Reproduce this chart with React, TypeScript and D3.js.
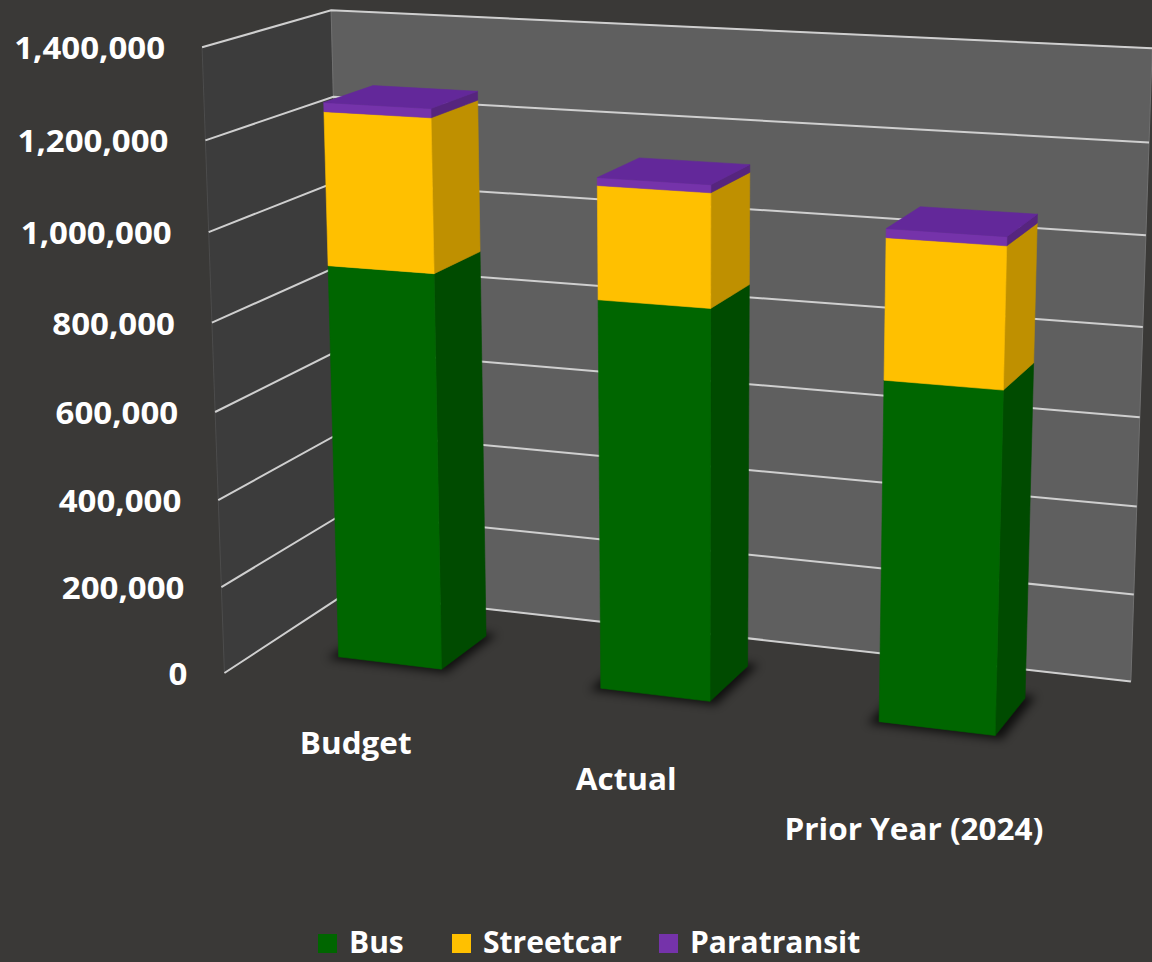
import React from 'react';
import * as d3 from 'd3';

const categories = ['Budget', 'Actual', 'Prior Year (2024)'];
const seriesNames = ['Bus', 'Streetcar', 'Paratransit'];
const busValues = [902000, 872000, 748000];
const streetcarValues = [341000, 247000, 301000];
const paratransitValues = [20000, 17000, 19000];
const yTicks = [0, 200000, 400000, 600000, 800000, 1000000, 1200000, 1400000];

const W = 1152;
const H = 962;
const FONT = "'Open Sans', 'DejaVu Sans', sans-serif";
const FONT_SIZE = 30;

const Z0 = 0.3, Z1 = 0.7;

// frame anchors for the 3-D camera: world (X, Yfrac, Z) -> image (u, v), weight
const anchors: number[][] = [
  [0, 0, 1, 333, 600, 0.5],
  [0, 1, 1, 333, 10, 4],
  [3, 1, 1, 1150, 46, 2],
  [3, 0, 1, 1130, 680, 2],
  [0, 1, 0, 200, 48, 2],
  [0, 0, 0, 225, 672, 2],
  [3, 0.2 / 1.4, 1, 1133, 595, 1],
  [3, 0.6 / 1.4, 1, 1142, 419, 1],
  [3, 1.0 / 1.4, 1, 1148, 238, 1],
  [0, 0.2 / 1.4, 0, 222, 587, 1],
  [0, 1.2 / 1.4, 0, 203, 142, 1],
  [0.3, 0, Z0, 340, 655, 1],
  [0.7, 0, Z0, 443, 667, 1],
  [1.3, 0, Z0, 602, 688, 1],
  [1.7, 0, Z0, 712, 700, 1],
  [2.3, 0, Z0, 880, 724, 1],
  [2.7, 0, Z0, 995, 738, 1],
];

const CU = 576, CV = 481, SC = 500;

function fitP(a: number[][]): number[] {
  const n = 11;
  const M = Array.from({ length: n }, () => new Array(n + 1).fill(0));
  const add = (r: number[], b: number, w: number) => {
    for (let i = 0; i < n; i++) {
      for (let j = 0; j < n; j++) M[i][j] += w * r[i] * r[j];
      M[i][n] += w * r[i] * b;
    }
  };
  for (const [X, Y, Z, u0, v0, wt] of a) {
    const u = (u0 - CU) / SC, v = (v0 - CV) / SC;
    add([X, Y, Z, 1, 0, 0, 0, 0, -u * X, -u * Y, -u * Z], u, wt);
    add([0, 0, 0, 0, X, Y, Z, 1, -v * X, -v * Y, -v * Z], v, wt);
  }
  for (let c = 0; c < n; c++) {
    let piv = c;
    for (let r = c + 1; r < n; r++) if (Math.abs(M[r][c]) > Math.abs(M[piv][c])) piv = r;
    [M[c], M[piv]] = [M[piv], M[c]];
    for (let r = 0; r < n; r++) {
      if (r === c) continue;
      const f = M[r][c] / M[c][c];
      for (let k = c; k <= n; k++) M[r][k] -= f * M[c][k];
    }
  }
  const p = M.map((row, i) => row[n] / row[i]);
  p.push(1);
  return p;
}

const P = fitP(anchors);

function proj(X: number, Y: number, Z: number): [number, number] {
  const w = P[8] * X + P[9] * Y + P[10] * Z + P[11];
  const u = (P[0] * X + P[1] * Y + P[2] * Z + P[3]) / w;
  const v = (P[4] * X + P[5] * Y + P[6] * Z + P[7]) / w;
  return [CU + SC * u, CV + SC * v];
}

const yScale = d3.scaleLinear().domain([0, 1400000]).range([0, 1]);
const xBand = d3.scaleBand<string>().domain(categories).range([0, 3]).paddingInner(0.6).paddingOuter(0.3);

const seriesData = [busValues, streetcarValues, paratransitValues];
const frontColors = ['#006600', '#ffc000', '#7533aa'];
const sideColors = ['#004b00', '#bf9000', '#56257e'];
const topColors = ['#0a7a0a', '#e0a800', '#63289a'];
const legendX = [318, 452, 659];
const TEXT_STRETCH = 1.05;

const pts = (arr: [number, number][]) => arr.map((p) => p.join(',')).join(' ');

function measure(s: string): number {
  try {
    const ctx = document.createElement('canvas').getContext('2d')!;
    ctx.font = `700 ${FONT_SIZE}px "Open Sans"`;
    return ctx.measureText(s).width;
  } catch (e) {
    return s.length * 16;
  }
}

export default function App() {
  const stacked = categories.map((c, i) => {
    let acc = 0;
    return seriesData.map((s, k) => {
      const y0 = acc;
      acc += s[i];
      return { k, y0, y1: acc };
    });
  });

  const wallLeft = pts([proj(0, 0, 0), proj(0, 1, 0), proj(0, 1, 1), proj(0, 0, 1)]);
  const wallBack = pts([proj(0, 0, 1), proj(0, 1, 1), proj(3, 1, 1), proj(3, 0, 1)]);
  const corner = proj(0, 0, 0);

  return (
    <svg width={W} height={H} style={{ display: 'block', position: 'absolute', left: 0, top: 0 }}>
      <defs>
        <filter id="blur" x="-50%" y="-50%" width="200%" height="200%">
          <feGaussianBlur stdDeviation="5" />
        </filter>
      </defs>
      <rect x={0} y={0} width={W} height={H} fill="#3a3937" />
      <polygon points={wallLeft} fill="#3c3c3c" stroke="#4c4c4c" strokeWidth={1} />
      <polygon points={wallBack} fill="#5f5f5f" stroke="#707070" strokeWidth={1} />
      {yTicks.map((t) => {
        const y = yScale(t);
        const a = proj(0, y, 0), b = proj(0, y, 1), c = proj(3, y, 1);
        return <polyline key={t} points={pts([a, b, c])} fill="none" stroke="#cfcfcf" strokeWidth={2} />;
      })}
      {categories.map((c) => {
        const x0 = xBand(c)!, x1 = x0 + xBand.bandwidth();
        const e = 0.03;
        const shadow = pts([proj(x0 - e, 0, Z0 - e), proj(x1 + e, 0, Z0 - e), proj(x1 + e, 0, Z1 + e), proj(x0 - e, 0, Z1 + e)]);
        return <polygon key={'s' + c} points={shadow} fill="#000" opacity={0.75} filter="url(#blur)" />;
      })}
      {categories.map((c, i) => {
        const x0 = xBand(c)!, x1 = x0 + xBand.bandwidth();
        const segs = stacked[i];
        return (
          <g key={c}>
            {segs.map((s, j) => {
              const ya = yScale(s.y0), yb = yScale(s.y1);
              const front = pts([proj(x0, ya, Z0), proj(x1, ya, Z0), proj(x1, yb, Z0), proj(x0, yb, Z0)]);
              const side = pts([proj(x1, ya, Z0), proj(x1, ya, Z1), proj(x1, yb, Z1), proj(x1, yb, Z0)]);
              const top = pts([proj(x0, yb, Z0), proj(x1, yb, Z0), proj(x1, yb, Z1), proj(x0, yb, Z1)]);
              return (
                <g key={j}>
                  <polygon points={side} fill={sideColors[s.k]} stroke={sideColors[s.k]} strokeWidth={0.6} strokeLinejoin="round" />
                  <polygon points={front} fill={frontColors[s.k]} stroke={frontColors[s.k]} strokeWidth={0.6} strokeLinejoin="round" />
                  {j === segs.length - 1 && (
                    <polygon points={top} fill={topColors[s.k]} stroke={topColors[s.k]} strokeWidth={0.6} strokeLinejoin="round" />
                  )}
                </g>
              );
            })}
          </g>
        );
      })}
      {yTicks.map((t) => {
        const [u, v] = proj(0, yScale(t), 0);
        return (
          <text key={'l' + t} transform={`translate(${u - 37},${v + 12}) scale(1.1,1)`} textAnchor="end"
            fill="#ffffff" fontFamily={FONT} fontWeight={700} fontSize={FONT_SIZE}>
            {d3.format(',')(t)}
          </text>
        );
      })}
      {categories.map((c) => {
        const cx = xBand(c)! + xBand.bandwidth() / 2;
        const [u] = proj(cx, 0, 0);
        const half = (measure(c) * TEXT_STRETCH) / 2;
        const right = u + 2 + half;
        const capTop = corner[1] + 60 + 0.135 * (right - corner[0] - 184);
        return (
          <text key={'c' + c} transform={`translate(${u + 2},${capTop + 21}) scale(${TEXT_STRETCH},1)`} textAnchor="middle"
            fill="#ffffff" fontFamily={FONT} fontWeight={700} fontSize={FONT_SIZE}>
            {c}
          </text>
        );
      })}
      {seriesNames.map((s, k) => (
        <g key={'lg' + s} transform={`translate(${legendX[k]},0)`}>
          <rect x={0} y={934} width={19} height={19} fill={frontColors[k]} />
          <text x={31} y={953} fill="#ffffff" fontFamily={FONT} fontWeight={700} fontSize={FONT_SIZE}>{s}</text>
        </g>
      ))}
    </svg>
  );
}
